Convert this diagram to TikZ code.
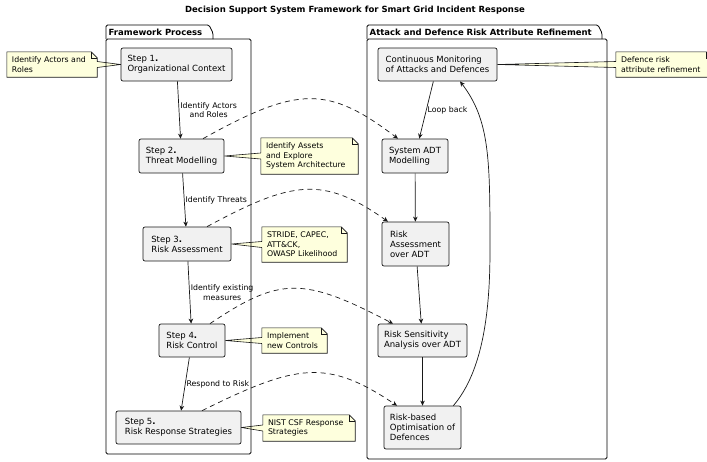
\documentclass[tikz,border=0pt]{standalone}
\usepackage{fontspec}
\setmainfont{DejaVu Sans}
\usetikzlibrary{arrows.meta}
\definecolor{boxfill}{HTML}{F1F1F1}
\definecolor{boxline}{HTML}{181818}
\definecolor{notebg}{HTML}{FEFFDD}
\pgfdeclarelayer{background}
\pgfsetlayers{background,main}
\tikzset{st/.style = {rectangle, rounded corners=2pt, draw=boxline, fill=boxfill, line width=0.7pt,
                      align=left, inner sep=0pt, font=\fontsize{8.5}{10}\selectfont},
         nt/.style = {align=left, inner xsep=5pt, inner ysep=0pt, font=\fontsize{7.8}{9.5}\selectfont},
         ntbg/.style = {draw=boxline, fill=notebg, line width=0.6pt},
         ed/.style = {draw=boxline, line width=0.7pt},
         dsh/.style = {ed, dash pattern=on 5pt off 4pt},
         lb/.style = {right, align=center, inner sep=1pt, font=\fontsize{7.8}{9.5}\selectfont},
         pk/.style = {draw=black, line width=0.8pt, rounded corners=1.5pt},
         pt/.style = {anchor=west, inner sep=0pt, font=\bfseries\fontsize{8.5}{10}\selectfont}}

\begin{document}
\begin{tikzpicture}[x=1pt, y=-1pt, >={Stealth[length=5pt, width=4.5pt, inset=1.5pt]}]
    \useasboundingbox (0,0) rectangle (707,461);
    \clip (0,0) rectangle (707,461);
    \node[font=\bfseries\fontsize{8.5}{10}\selectfont] (title) at (355,10)
        {Decision Support System Framework for Smart Grid Incident Response};
    % packages
    \draw[pk] (106,39) rectangle (251,454);
    \draw[pk] (106,39) -- (106,25) -- (209,25) -- (213,33) -- (213,39);
    \node[pt] (p1) at (108.5,32) {Framework Process};
    \draw[pk] (367,39) rectangle (607,459);
    \draw[pk] (367,39) -- (367,25) -- (598,25) -- (602,33) -- (602,39);
    \node[pt] (p2) at (369.5,32) {Attack and Defence Risk Attribute Refinement};
    % framework steps
    \node[st, minimum width=111pt, minimum height=33pt] (s1) at (176.5,64.5) {Step 1\textbf{.}\\Organizational Context};
    \node[st, minimum width=85pt,  minimum height=34pt] (s2) at (181.5,156)  {Step 2\textbf{.}\\Threat Modelling};
    \node[st, minimum width=88pt,  minimum height=34pt] (s3) at (187,244)    {Step 3\textbf{.}\\Risk Assessment};
    \node[st, minimum width=66pt,  minimum height=33pt] (s4) at (192,340.5)  {Step 4\textbf{.}\\Risk Control};
    \node[st, minimum width=125pt, minimum height=33pt] (s5) at (178.5,427.5) {Step 5\textbf{.}\\Risk Response Strategies};
    % refinement loop
    \node[st, minimum width=119pt, minimum height=33pt] (mon) at (437.5,64.5) {Continuous Monitoring\\of Attacks and Defences};
    \node[st, minimum width=66pt,  minimum height=34pt] (adt) at (415,156)    {System ADT\\Modelling};
    \node[st, minimum width=67pt,  minimum height=44pt] (ra)  at (415.5,244)  {Risk\\Assessment\\over ADT};
    \node[st, minimum width=89pt,  minimum height=33pt] (rsa) at (422.5,340.5) {Risk Sensitivity\\Analysis over ADT};
    \node[st, minimum width=77pt,  minimum height=43pt] (opt) at (422.5,427.5) {Risk-based\\Optimisation of\\Defences};
    % notes
    \node[nt, text width=80pt, minimum height=25pt] (n1) at (52,64.5)    {Identify Actors and\\Roles};
    \node[nt, text width=87pt, minimum height=36pt] (n2) at (309.5,156)  {Identify Assets\\and Explore\\System Architecture};
    \node[nt, text width=75pt, minimum height=35pt] (n3) at (304.5,244.5) {STRIDE, CAPEC,\\ATT\&CK,\\OWASP Likelihood};
    \node[nt, text width=55pt, minimum height=25pt] (n4) at (294.5,340.5) {Implement\\new Controls};
    \node[nt, text width=82pt, minimum height=26pt] (n5) at (309,428)    {NIST CSF Response\\Strategies};
    \node[nt, text width=86pt, minimum height=25pt] (n6) at (664,64.5)   {Defence risk\\attribute refinement};
    \begin{pgfonlayer}{background}
    \fill[white] (0,0) rectangle (707,461);
    \foreach \n in {n1,n2,n3,n4,n5,n6}{
        \filldraw[ntbg] (\n.north west) -- ([xshift=-6pt]\n.north east) -- ([yshift=-6pt]\n.north east)
            -- (\n.south east) -- (\n.south west) -- cycle;
        \draw[ntbg, fill=none] ([xshift=-6pt]\n.north east) -- ([xshift=-6pt,yshift=-6pt]\n.north east)
            -- ([yshift=-6pt]\n.north east);
    }
    \foreach \a/\b/\d in {s1.west/n1.east/-1, s2.east/n2.west/1, s3.east/n3.west/1, s4.east/n4.west/1,
                          s5.east/n5.west/1, mon.east/n6.west/1}{
        \fill[notebg] (\a) -- ([yshift=3pt]\b) -- ([xshift=\d pt,yshift=3pt]\b)
            -- ([xshift=\d pt,yshift=-3pt]\b) -- ([yshift=-3pt]\b) -- cycle;
        \draw[ntbg, fill=none] ([yshift=3pt]\b) -- (\a) -- ([yshift=-3pt]\b);
    }
    \end{pgfonlayer}
    % steps
    \draw[ed, ->] (s1) -- node[lb] {Identify Actors\\and Roles} (s2);
    \draw[ed, ->] (s2) -- node[lb] {Identify Threats} (s3);
    \draw[ed, ->] (s3) -- node[lb] {Identify existing\\measures} (s4);
    \draw[ed, ->] (s4) -- node[lb] {Respond to Risk} (s5);
    \draw[ed, ->] (mon) -- node[lb] {Loop back} (adt);
    \draw[ed, ->] (adt) -- (ra);
    \draw[ed, ->] (ra) -- (rsa);
    \draw[ed, ->] (rsa) -- (opt);
    \coordinate (lp) at (490,250);
    \draw[ed, ->] ([xshift=-8pt]opt.north east) .. controls +(30,-35) and +(0,60) .. (lp)
        .. controls +(0,-90) and +(30,39) .. ([xshift=22.5pt]mon.south);
    % cross links
    \draw[dsh, ->] ([xshift=21.5pt]s2.north) .. controls +(95,-53) and +(-70,-53) .. ([xshift=-17pt]adt.north);
    \draw[dsh, ->] ([xshift=20pt]s3.north) .. controls +(85,-46) and +(-65,-46) .. ([xshift=-27.5pt]ra.north);
    \draw[dsh, ->] ([xshift=18pt]s4.north) .. controls +(70,-47) and +(-90,-47) .. ([xshift=-29.5pt]rsa.north);
    \draw[dsh, ->] ([xshift=23.5pt]s5.north) .. controls +(95,-47) and +(-70,-47) .. ([xshift=-25.5pt]opt.north);
\end{tikzpicture}
\end{document}
